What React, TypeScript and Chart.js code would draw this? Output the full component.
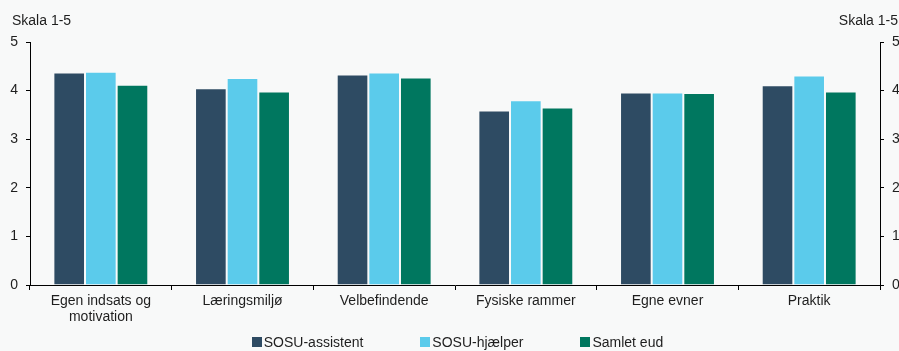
import React, { useEffect, useRef } from "react";
import { Chart, registerables } from "chart.js";

Chart.register(...registerables);

const categories: (string | string[])[] = [
  ["Egen indsats og", "motivation"],
  "Læringsmiljø",
  "Velbefindende",
  "Fysiske rammer",
  "Egne evner",
  "Praktik",
];

const sosuAssistent = [4.37, 4.05, 4.33, 3.59, 3.96, 4.11];
const sosuHjaelper = [4.39, 4.26, 4.37, 3.8, 3.96, 4.31];
const samletEud = [4.12, 3.98, 4.27, 3.65, 3.95, 3.98];

const seriesNames = ["SOSU-assistent", "SOSU-hjælper", "Samlet eud"];
const seriesColors = ["#2E4B63", "#5BCBEB", "#00775F"];
const axisTicks = [0, 1, 2, 3, 4, 5];
const axisTitle = "Skala 1-5";

const FONT = "'Liberation Sans', Arial, sans-serif";
const FONT_SIZE = 14;
const BG = "#f8f9f9";
const TEXT = "#1e1e1e";

const titlePlugin = {
  id: "scaleTitles",
  afterDraw(chart: any) {
    const ctx = chart.ctx;
    ctx.save();
    ctx.font = `${FONT_SIZE}px ${FONT}`;
    ctx.fillStyle = TEXT;
    ctx.textBaseline = "middle";
    ctx.textAlign = "left";
    ctx.fillText(axisTitle, 12, 21);
    ctx.textAlign = "right";
    ctx.fillText(axisTitle, 898, 21);
    ctx.restore();
  },
};

export default function App() {
  const canvasRef = useRef<HTMLCanvasElement | null>(null);

  useEffect(() => {
    if (!canvasRef.current) return;
    const values = [sosuAssistent, sosuHjaelper, samletEud];
    const chart = new Chart(canvasRef.current, {
      type: "bar",
      data: {
        labels: categories,
        datasets: seriesNames.map((name, i) => ({
          label: name,
          data: values[i],
          backgroundColor: seriesColors[i],
          borderColor: "rgba(255,255,255,0.22)",
          borderWidth: 1,
          categoryPercentage: 0.67,
          barPercentage: 1,
        })),
      },
      options: {
        animation: false,
        responsive: false,
        devicePixelRatio: 1,
        layout: { padding: { top: 42, left: 0, right: 0, bottom: 0 } },
        plugins: {
          legend: { display: false },
          tooltip: { enabled: false },
        },
        scales: {
          x: {
            grid: {
              offset: true,
              drawOnChartArea: false,
              drawTicks: true,
              tickLength: 5,
              color: "#000",
            },
            border: { display: true, color: "#000", width: 1 },
            ticks: {
              color: TEXT,
              font: { family: FONT, size: FONT_SIZE, lineHeight: 1.15 },
              padding: 3,
              maxRotation: 0,
              autoSkip: false,
            },
            afterFit(scale: any) {
              scale.height = 66;
            },
          },
          y: {
            position: "left",
            min: 0,
            max: 5,
            afterBuildTicks(scale: any) {
              scale.ticks = axisTicks.map((v) => ({ value: v }));
            },
            grid: {
              drawOnChartArea: false,
              drawTicks: true,
              tickLength: 4,
              color: "#000",
            },
            border: { display: true, color: "#000", width: 1 },
            ticks: {
              color: TEXT,
              font: { family: FONT, size: FONT_SIZE },
              padding: 8,
            },
            afterFit(scale: any) {
              scale.width = 30;
            },
          },
          y2: {
            position: "right",
            min: 0,
            max: 5,
            afterBuildTicks(scale: any) {
              scale.ticks = axisTicks.map((v) => ({ value: v }));
            },
            grid: {
              drawOnChartArea: false,
              drawTicks: true,
              tickLength: 4,
              color: "#000",
            },
            border: { display: true, color: "#000", width: 1 },
            ticks: {
              color: TEXT,
              font: { family: FONT, size: FONT_SIZE },
              padding: 8,
            },
            afterFit(scale: any) {
              scale.width = 19;
            },
          },
        },
      },
      plugins: [titlePlugin],
    });
    return () => chart.destroy();
  }, []);

  return (
    <div
      style={{
        position: "fixed",
        left: 0,
        top: 0,
        width: 899,
        height: 351,
        background: BG,
        overflow: "hidden",
      }}
    >
      <canvas
        ref={canvasRef}
        width={899}
        height={351}
        style={{ position: "absolute", left: 0, top: 0, width: 899, height: 351 }}
      />
      <div
        style={{
          position: "absolute",
          left: 8,
          width: 899,
          top: 334,
          height: 16,
          display: "flex",
          justifyContent: "center",
          alignItems: "center",
          gap: 57,
          fontFamily: FONT,
          fontSize: FONT_SIZE,
          color: TEXT,
        }}
      >
        {seriesNames.map((name, i) => (
          <div key={name} style={{ display: "flex", alignItems: "center" }}>
            <span
              style={{
                display: "inline-block",
                width: 10,
                height: 10,
                background: seriesColors[i],
                marginRight: 2,
              }}
            />
            <span>{name}</span>
          </div>
        ))}
      </div>
    </div>
  );
}
